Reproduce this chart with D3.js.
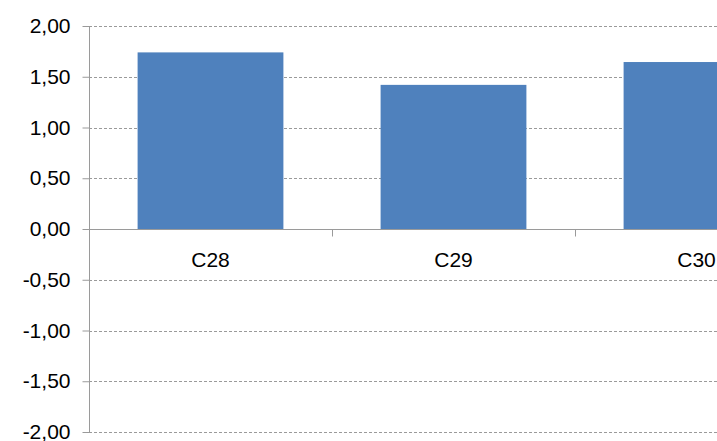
<!DOCTYPE html>
<html><head><meta charset="utf-8">
<script src="https://cdn.jsdelivr.net/npm/d3@7"></script>
<style>body{margin:0;background:#fff}svg{display:block}</style>
</head><body>
<script>
const categories = ["C28", "C29", "C30"];
const values = [1.74, 1.42, 1.645];
const yTicks = [-2, -1.5, -1, -0.5, 0, 0.5, 1, 1.5, 2];

const W = 717, H = 441;
const svg = d3.select("body").append("svg").attr("width", W).attr("height", H);
const x0 = 89, x1 = 818, yTop = 26, yBot = 432;
const x = d3.scaleBand().domain(categories).range([x0, x1]).paddingInner(0.4).paddingOuter(0.2);
const xb = d3.scaleBand().domain(categories).range([x0, x1]);
const y = d3.scaleLinear().domain([-2, 2]).range([yBot, yTop]);
const fmt = v => d3.format(".2f")(v).replace(".", ",").replace("−", "-");
const FONT = "Liberation Sans, Arial, sans-serif";
const FS = 21;

// gridlines
svg.append("g").selectAll("line").data(yTicks.filter(t => t !== 0)).join("line")
  .attr("x1", x0).attr("x2", W).attr("y1", d => Math.round(y(d)) + 0.5).attr("y2", d => Math.round(y(d)) + 0.5)
  .attr("stroke", "#9a9a9a").attr("stroke-width", 1).attr("stroke-dasharray", "3,2");

// bars
svg.append("g").selectAll("rect").data(values).join("rect")
  .attr("x", (d, i) => x(categories[i])).attr("width", x.bandwidth())
  .attr("y", d => y(d)).attr("height", d => y(0) - y(d))
  .attr("fill", "#4f81bd");

// y axis
const yAxis = d3.axisLeft(y).tickValues(yTicks).tickFormat(fmt).tickSize(7).tickPadding(12);
const gy = svg.append("g").attr("transform", `translate(${x0 + 0.5},0)`).call(yAxis);
gy.select(".domain").attr("stroke", "#9a9a9a").attr("d", `M0,${yTop}V${yBot}`);
gy.selectAll(".tick line").attr("stroke", "#9a9a9a");
gy.selectAll("text").attr("font-family", FONT).attr("font-size", FS).attr("fill", "#000");

// x axis at zero
const gx = svg.append("g").attr("transform", `translate(0,${Math.round(y(0)) + 0.5})`);
gx.append("line").attr("x1", x0).attr("x2", W).attr("stroke", "#9a9a9a");
gx.selectAll("line.t").data(categories.slice(1)).join("line").attr("class", "t")
  .attr("x1", d => Math.round(xb(d)) + 0.5).attr("x2", d => Math.round(xb(d)) + 0.5)
  .attr("y1", 0).attr("y2", 7).attr("stroke", "#9a9a9a");
gx.selectAll("text").data(categories).join("text")
  .attr("x", d => xb(d) + xb.bandwidth() / 2).attr("y", 37)
  .attr("text-anchor", "middle").attr("font-family", FONT)
  .attr("font-size", FS).attr("fill", "#000").text(d => d);
</script>
</body></html>
